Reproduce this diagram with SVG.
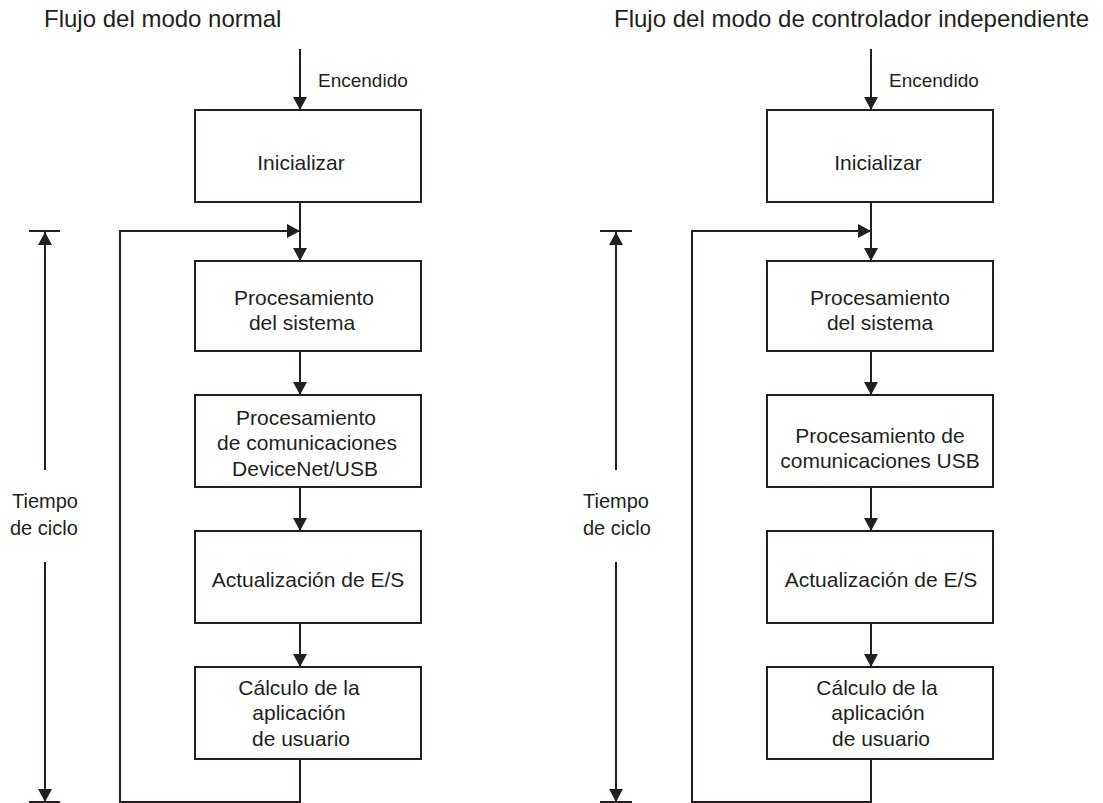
<svg xmlns="http://www.w3.org/2000/svg" width="1103" height="803" viewBox="0 0 1103 803">
  <style>
    text { font-family: "Liberation Sans", Arial, sans-serif; fill: #231f20; }
    .title { font-size: 24px; }
    .lbl { font-size: 20px; }
    .pwr { font-size: 19px; }
    .box text { font-size: 21px; text-anchor: middle; }
    .box rect { fill: #ffffff; stroke: #231f20; stroke-width: 2; }
    .wire { fill: none; stroke: #231f20; stroke-width: 2; }
  </style>
  <defs>
    <marker id="head" markerUnits="userSpaceOnUse" markerWidth="14" markerHeight="14" refX="13" refY="7" orient="auto">
      <path d="M0,0 L13,7 L0,14 Z" fill="#231f20"/>
    </marker>
  </defs>

  <rect width="1103" height="803" fill="#ffffff"/>

  <!-- headings -->
  <text class="title" x="44" y="27">Flujo del modo normal</text>
  <text class="title" x="614" y="27">Flujo del modo de controlador independiente</text>

  <!-- connectors -->
  <g id="connectors" class="wire">
    <!-- normal mode -->
    <path d="M300,49 L300,110" marker-end="url(#head)"/>
    <path d="M300,202 L300,261" marker-end="url(#head)"/>
    <path d="M300,351 L300,395" marker-end="url(#head)"/>
    <path d="M300,487 L300,531" marker-end="url(#head)"/>
    <path d="M300,623 L300,667" marker-end="url(#head)"/>
    <path d="M300,759 L300,802 L120,802 L120,231 L300,231" marker-end="url(#head)"/>
    <path d="M45,470 L45,232" marker-end="url(#head)"/>
    <path d="M45,562 L45,802" marker-end="url(#head)"/>
    <path d="M29,231 L60,231"/>
    <path d="M29,802 L60,802"/>

    <!-- standalone controller mode -->
    <path d="M871,49 L871,110" marker-end="url(#head)"/>
    <path d="M871,202 L871,261" marker-end="url(#head)"/>
    <path d="M871,351 L871,395" marker-end="url(#head)"/>
    <path d="M871,487 L871,531" marker-end="url(#head)"/>
    <path d="M871,623 L871,667" marker-end="url(#head)"/>
    <path d="M871,759 L871,802 L692,802 L692,231 L871,231" marker-end="url(#head)"/>
    <path d="M616,470 L616,232" marker-end="url(#head)"/>
    <path d="M616,562 L616,802" marker-end="url(#head)"/>
    <path d="M600,231 L632,231"/>
    <path d="M600,802 L632,802"/>
  </g>

  <!-- side labels -->
  <text class="pwr" x="318" y="87">Encendido</text>
  <text class="pwr" x="889" y="87">Encendido</text>
  <g id="cycle-time-normal">
    <text class="lbl" x="12" y="508">Tiempo</text>
    <text class="lbl" x="10" y="535">de ciclo</text>
  </g>
  <g id="cycle-time-standalone">
    <text class="lbl" x="583" y="508">Tiempo</text>
    <text class="lbl" x="583" y="535">de ciclo</text>
  </g>

  <!-- normal mode nodes -->
  <g id="n-init" class="box">
    <rect x="195" y="110" width="226" height="92"/>
    <text x="301" y="170">Inicializar</text>
  </g>
  <g id="n-system" class="box">
    <rect x="195" y="261" width="226" height="90"/>
    <text x="304" y="305">Procesamiento</text>
    <text x="302" y="330">del sistema</text>
  </g>
  <g id="n-comms" class="box">
    <rect x="195" y="395" width="226" height="92"/>
    <text x="306" y="425">Procesamiento</text>
    <text x="307" y="450">de comunicaciones</text>
    <text x="305" y="476">DeviceNet/USB</text>
  </g>
  <g id="n-io" class="box">
    <rect x="195" y="531" width="226" height="92"/>
    <text x="308" y="587">Actualización de E/S</text>
  </g>
  <g id="n-user" class="box">
    <rect x="195" y="667" width="226" height="92"/>
    <text x="299" y="695">Cálculo de la</text>
    <text x="299" y="720">aplicación</text>
    <text x="301" y="746">de usuario</text>
  </g>

  <!-- standalone controller mode nodes -->
  <g id="s-init" class="box">
    <rect x="767" y="110" width="226" height="92"/>
    <text x="878" y="170">Inicializar</text>
  </g>
  <g id="s-system" class="box">
    <rect x="767" y="261" width="226" height="90"/>
    <text x="880" y="305">Procesamiento</text>
    <text x="880" y="330">del sistema</text>
  </g>
  <g id="s-comms" class="box">
    <rect x="767" y="395" width="226" height="92"/>
    <text x="880" y="443">Procesamiento de</text>
    <text x="880" y="468">comunicaciones USB</text>
  </g>
  <g id="s-io" class="box">
    <rect x="767" y="531" width="226" height="92"/>
    <text x="881" y="587">Actualización de E/S</text>
  </g>
  <g id="s-user" class="box">
    <rect x="767" y="667" width="226" height="92"/>
    <text x="877" y="695">Cálculo de la</text>
    <text x="878" y="720">aplicación</text>
    <text x="881" y="746">de usuario</text>
  </g>
</svg>
